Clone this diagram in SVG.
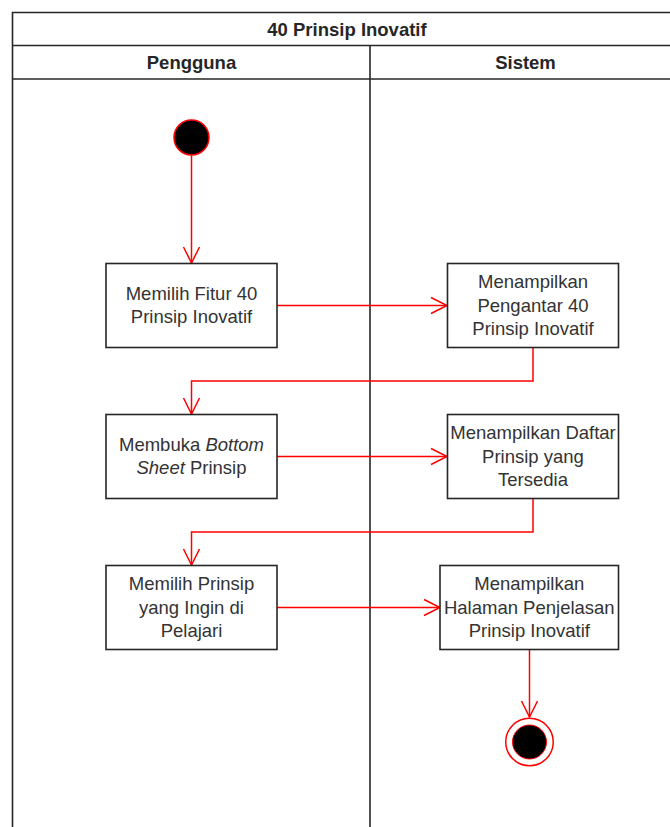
<svg xmlns="http://www.w3.org/2000/svg" width="670" height="827" viewBox="0 0 670 827">
<defs>
<style>
.frame{fill:none;stroke:#262626;stroke-width:1.6}
.box{fill:#ffffff;stroke:#262626;stroke-width:1.6}
.hdr{font-family:"Liberation Sans",Arial,sans-serif;font-size:18.5px;font-weight:bold;fill:#262626;text-anchor:middle}
.lbl{font-family:"Liberation Sans",Arial,sans-serif;font-size:18.5px;fill:#333333;text-anchor:middle}
.edge{fill:none;stroke:#ff0000;stroke-width:1.5}
</style>
<marker id="arr" markerUnits="userSpaceOnUse" markerWidth="20" markerHeight="20" refX="17" refY="9" orient="auto" overflow="visible">
<path d="M1,1 L17,9 L1,17" fill="none" stroke="#ff0000" stroke-width="1.5"/>
</marker>
</defs>
<rect width="670" height="827" fill="#ffffff"/>
<g id="pool">
<path class="frame" d="M12.5,827 L12.5,12.5 L670,12.5"/>
<line class="frame" x1="12.5" y1="45.5" x2="670" y2="45.5"/>
<line class="frame" x1="12.5" y1="79" x2="670" y2="79"/>
<line class="frame" x1="370" y1="45.5" x2="370" y2="827"/>
<text class="hdr" x="347" y="35.5">40 Prinsip Inovatif</text>
<text class="hdr" x="191.5" y="68.5">Pengguna</text>
<text class="hdr" x="525.5" y="68.5">Sistem</text>
</g>
<g id="connectors">
<line class="edge" x1="191.5" y1="155" x2="191.5" y2="263" marker-end="url(#arr)"/>
<line class="edge" x1="277" y1="305.5" x2="447" y2="305.5" marker-end="url(#arr)"/>
<path class="edge" d="M533,347.5 L533,381 L191.5,381 L191.5,414" marker-end="url(#arr)"/>
<line class="edge" x1="277" y1="456.5" x2="447" y2="456.5" marker-end="url(#arr)"/>
<path class="edge" d="M533,498.5 L533,532 L191.5,532 L191.5,565" marker-end="url(#arr)"/>
<line class="edge" x1="277" y1="607.5" x2="440" y2="607.5" marker-end="url(#arr)"/>
<line class="edge" x1="529.5" y1="649.5" x2="529.5" y2="717" marker-end="url(#arr)"/>
</g>
<g id="start">
<circle cx="191.5" cy="137.5" r="17.5" fill="#000000" stroke="#ff0000" stroke-width="1.5"/>
</g>
<g id="n1">
<rect class="box" x="106" y="263.5" width="171" height="84"/>
<text class="lbl"><tspan x="191.5" y="299.5">Memilih Fitur 40</tspan><tspan x="191.5" y="323">Prinsip Inovatif</tspan></text>
</g>
<g id="n2">
<rect class="box" x="447.5" y="263.5" width="171" height="84"/>
<text class="lbl"><tspan x="533" y="288.3">Menampilkan</tspan><tspan x="533" y="311.8">Pengantar 40</tspan><tspan x="533" y="335.3">Prinsip Inovatif</tspan></text>
</g>
<g id="n3">
<rect class="box" x="106" y="414.5" width="171" height="84"/>
<text class="lbl"><tspan x="191.5" y="450.5">Membuka <tspan font-style="italic">Bottom</tspan></tspan><tspan x="191.5" y="474"><tspan font-style="italic">Sheet</tspan> Prinsip</tspan></text>
</g>
<g id="n4">
<rect class="box" x="447.5" y="414.5" width="171" height="84"/>
<text class="lbl"><tspan x="533" y="439.3">Menampilkan Daftar</tspan><tspan x="533" y="462.8">Prinsip yang</tspan><tspan x="533" y="486.3">Tersedia</tspan></text>
</g>
<g id="n5">
<rect class="box" x="106" y="565.5" width="171" height="84"/>
<text class="lbl"><tspan x="191.5" y="590.3">Memilih Prinsip</tspan><tspan x="191.5" y="613.8">yang Ingin di</tspan><tspan x="191.5" y="637.3">Pelajari</tspan></text>
</g>
<g id="n6">
<rect class="box" x="440" y="565.5" width="178.5" height="84"/>
<text class="lbl"><tspan x="529.3" y="590.3">Menampilkan</tspan><tspan x="529.3" y="613.8">Halaman Penjelasan</tspan><tspan x="529.3" y="637.3">Prinsip Inovatif</tspan></text>
</g>
<g id="end">
<circle cx="529.5" cy="742" r="23.75" fill="#ffffff" stroke="#ff0000" stroke-width="1.5"/>
<circle cx="529.5" cy="742" r="17" fill="#000000" stroke="#ff0000" stroke-width="1"/>
</g>
</svg>
